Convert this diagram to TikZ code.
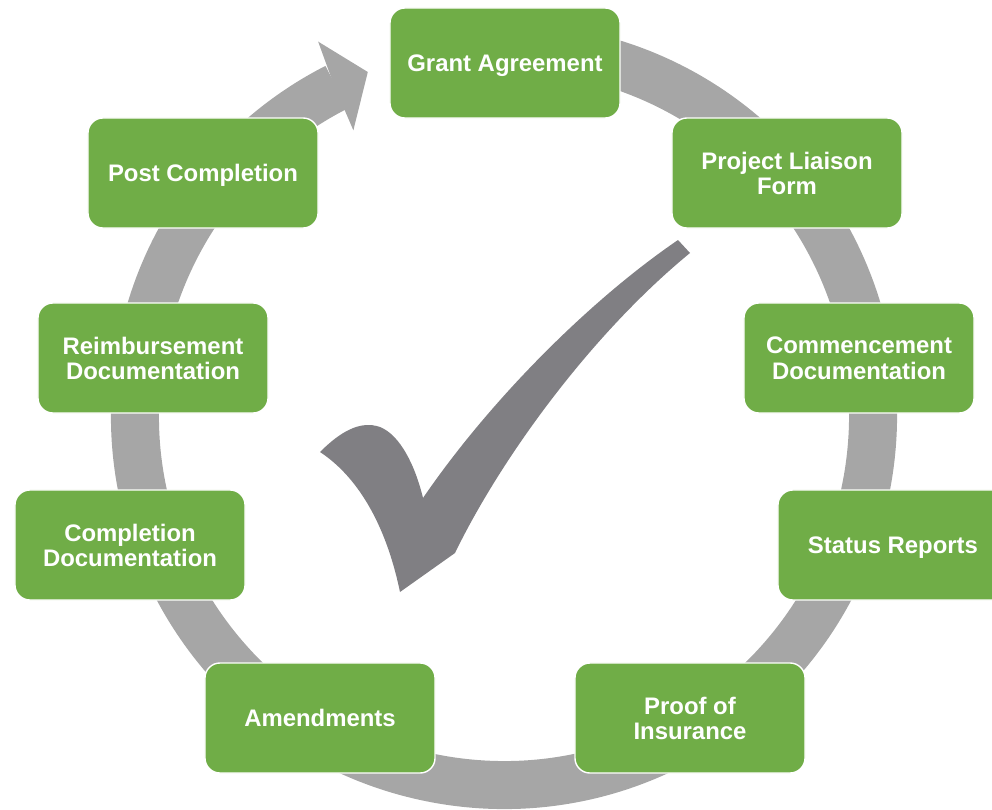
\documentclass[tikz,border=0pt]{standalone}
\usepackage{fontspec}
\setmainfont{Liberation Sans}
\usepackage{tikz}
\usetikzlibrary{positioning}

\definecolor{stepgreen}{HTML}{70AD47}
\definecolor{ringgray}{HTML}{A6A6A6}
\definecolor{tickgray}{HTML}{807F83}

\begin{document}
\begin{tikzpicture}[x=0.025cm,y=-0.025cm,
    stage/.style={rectangle,rounded corners=0.375cm,fill=stepgreen,draw=white,line width=1pt,
      minimum width=5.75cm,minimum height=2.75cm,inner sep=0pt,align=center,text depth=0pt,
      text=white,font=\fontsize{17}{18}\selectfont\bfseries}]
			\useasboundingbox (0,0) rectangle (992,809);
			% circular arrow round the stages
			\begin{scope}[shift={(504,416)},y=0.025cm]
				\draw[ringgray,line width=1.2cm] (80:369) arc[start angle=80,end angle=-243,radius=369];
				\fill[ringgray] (117.2:372) -- (116.4:418) -- (111.6:370) -- (117.8:323) -- (117.5:346) -- cycle;
			\end{scope}
			% tick in the middle
			\fill[tickgray] (690,253) .. controls (590,335) and (500,460) .. (455,553)
				-- (400,592) .. controls (385,520) and (355,475) .. (320,452)
				.. controls (340,432) and (360,420) .. (380,427)
				.. controls (400,435) and (415,465) .. (423,498)
				.. controls (490,400) and (590,300) .. (678,240) -- cycle;
			\node[stage] (grant)   at (505,63)  {Grant Agreement};
			\node[stage] (liaison) at (787,173) {Project Liaison\\Form};
			\node[stage] (commence) at (859,358) {Commencement\\Documentation};
			\node[stage] (status)  at (893,545) {Status Reports};
			\node[stage] (proof)   at (690,718) {Proof of\\Insurance};
			\node[stage] (amend)   at (320,718) {Amendments};
			\node[stage] (complete) at (130,545) {Completion\\Documentation};
			\node[stage] (reimb)   at (153,358) {Reimbursement\\Documentation};
			\node[stage] (post)    at (203,173) {Post Completion};
		\end{tikzpicture}
\end{document}
